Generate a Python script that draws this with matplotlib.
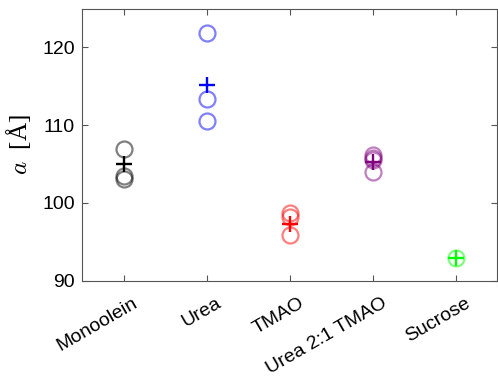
import numpy as np
import matplotlib
matplotlib.use("Agg")
import matplotlib.pyplot as plt
import matplotlib.transforms as mtransforms

plt.rcParams['font.family'] = ['Liberation Sans', 'DejaVu Sans']
plt.rcParams['mathtext.fontset'] = 'cm'

samples = ['Monoolein', 'Urea', 'TMAO', 'Urea 2:1 TMAO', 'Sucrose']

# individual lattice parameter measurements (Angstrom)
monoolein = [106.9, 103.4, 103.0]
urea = [121.9, 113.35, 110.5]
tmao = [98.7, 98.2, 95.8]
urea_tmao = [106.1, 105.8, 105.5, 103.9]
sucrose = [92.9]
measurements = [monoolein, urea, tmao, urea_tmao, sucrose]

# averages shown as crosses
means = [105.0, 115.2, 97.3, 105.2, 92.9]

colors = ['black', 'blue', 'red', '#800080', '#00ff00']

fig = plt.figure(figsize=(4.98, 3.83), dpi=100)
ax = fig.add_axes([0.1647, 0.2676, 0.8333, 0.7102])

for i, (vals, m, c) in enumerate(zip(measurements, means, colors)):
    x = np.full(len(vals), i + 1)
    ax.plot(x, vals, 'o', mfc='none', mec=c, alpha=0.5, ms=11.5, mew=1.6)
    ax.plot(i + 1, m, '+', color=c, ms=12, mew=1.7)

ax.set_xlim(0.5, 5.5)
ax.set_ylim(90, 125)
ax.set_yticks([90, 100, 110, 120])
ax.set_xticks(np.arange(1, 6))
ax.set_xticklabels(samples, rotation=30, ha='right', rotation_mode='anchor')
ax.tick_params(direction='in', length=4, width=0.8, color='#555555',
               labelsize=14, top=True, right=True, pad=5)
ax.tick_params(axis='x', pad=10)

# nudge rotated labels so their right end sits past the tick
shift = mtransforms.ScaledTranslation(9 / 100, 0, fig.dpi_scale_trans)
for lbl in ax.get_xticklabels():
    lbl.set_transform(lbl.get_transform() + shift)

for s in ax.spines.values():
    s.set_color('#555555')
    s.set_linewidth(0.8)
ax.set_ylabel(r'$a$  [Å]', fontsize=18, family=['Liberation Serif', 'DejaVu Serif'])
ax.yaxis.set_label_coords(-0.118, 0.5)

fig.savefig('out.png', dpi=100)
